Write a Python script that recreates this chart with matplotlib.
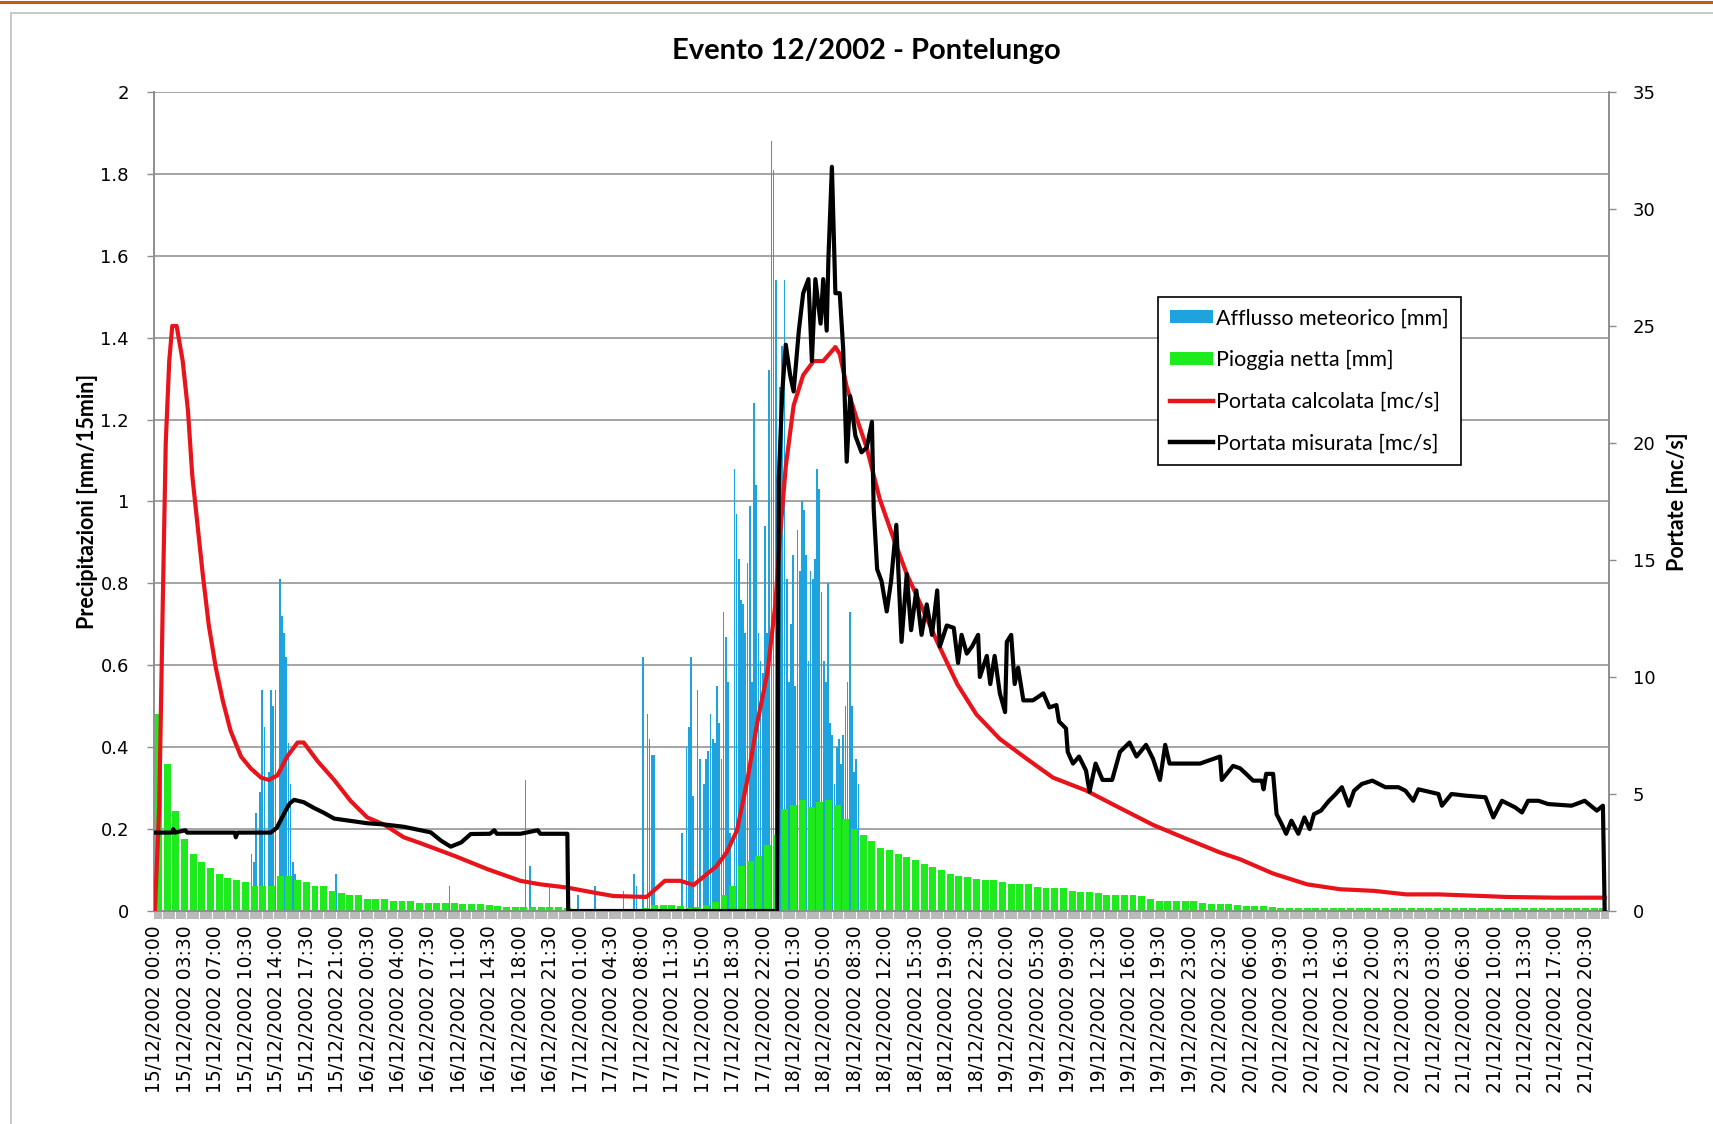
"""
Evento 12/2002 - Pontelungo: ietogramma + idrogrammi (calcolato / misurato).
Asse x in ore dall'inizio evento (15/12/2002 00:00), passo dati 15 min.
"""
import matplotlib
matplotlib.use("Agg")
import matplotlib.pyplot as plt
from matplotlib.lines import Line2D
from matplotlib.patches import Patch, Rectangle

# --- etichette asse x (una ogni 3h30) ---
etichette_x = [
    "15/12/2002 00:00", "15/12/2002 03:30", "15/12/2002 07:00", "15/12/2002 10:30",
    "15/12/2002 14:00", "15/12/2002 17:30", "15/12/2002 21:00", "16/12/2002 00:30",
    "16/12/2002 04:00", "16/12/2002 07:30", "16/12/2002 11:00", "16/12/2002 14:30",
    "16/12/2002 18:00", "16/12/2002 21:30", "17/12/2002 01:00", "17/12/2002 04:30",
    "17/12/2002 08:00", "17/12/2002 11:30", "17/12/2002 15:00", "17/12/2002 18:30",
    "17/12/2002 22:00", "18/12/2002 01:30", "18/12/2002 05:00", "18/12/2002 08:30",
    "18/12/2002 12:00", "18/12/2002 15:30", "18/12/2002 19:00", "18/12/2002 22:30",
    "19/12/2002 02:00", "19/12/2002 05:30", "19/12/2002 09:00", "19/12/2002 12:30",
    "19/12/2002 16:00", "19/12/2002 19:30", "19/12/2002 23:00", "20/12/2002 02:30",
    "20/12/2002 06:00", "20/12/2002 09:30", "20/12/2002 13:00", "20/12/2002 16:30",
    "20/12/2002 20:00", "20/12/2002 23:30", "21/12/2002 03:00", "21/12/2002 06:30",
    "21/12/2002 10:00", "21/12/2002 13:30", "21/12/2002 17:00", "21/12/2002 20:30",
]
passo_etichette = 3.5  # ore

# --- afflusso meteorico [mm/15min] (solo intervalli non nulli) ---
afflusso_t = [
    11.0, 11.25, 11.5, 12.0, 12.25, 12.5, 13.0, 13.25, 13.5, 13.75, 14.25, 14.5,
    14.75, 15.0, 15.25, 15.5, 15.75, 16.0,
    20.75, 33.75, 42.5, 43.0, 45.25, 47.5, 48.5, 50.5, 53.75, 55.0, 55.25,
    56.0, 56.5, 56.75, 57.0, 57.25,
    60.5, 61.0, 61.25, 61.5, 61.75, 62.25, 62.5, 63.0, 63.25, 63.5, 63.75, 64.0,
    64.25, 64.5, 64.75, 65.0, 65.25, 65.5, 65.75, 66.0, 66.5, 66.75, 67.0, 67.25,
    67.5, 67.75, 68.0, 68.25, 68.5, 68.75, 69.0, 69.25, 69.5, 69.75, 70.0, 70.25,
    70.5, 70.75, 71.0, 71.25, 71.5, 71.75, 72.0, 72.25, 72.5, 72.75, 73.0, 73.25,
    73.5, 73.75, 74.0, 74.25, 74.5, 74.75, 75.0, 75.25, 75.5, 75.75, 76.0, 76.25,
    76.5, 76.75, 77.0, 77.25, 77.5, 77.75, 78.0, 78.25, 78.5, 78.75, 79.0, 79.25,
    79.5, 79.75, 80.0, 80.25, 80.5, 80.75,
]
afflusso_mm = [
    0.14, 0.12, 0.24, 0.29, 0.54, 0.45, 0.34, 0.54, 0.50, 0.54, 0.81, 0.72,
    0.68, 0.62, 0.41, 0.31, 0.12, 0.09,
    0.09, 0.06, 0.32, 0.11, 0.06, 0.09, 0.04, 0.06, 0.05, 0.09, 0.06,
    0.62, 0.48, 0.42, 0.38, 0.38,
    0.19, 0.40, 0.45, 0.62, 0.28, 0.54, 0.37, 0.31, 0.37, 0.39, 0.48, 0.42,
    0.41, 0.55, 0.46, 0.37, 0.73, 0.67, 0.56, 0.19, 1.08, 0.97, 0.86, 0.76,
    0.75, 0.68, 0.85, 0.99, 0.56, 1.24, 1.04, 0.68, 0.61, 0.58, 0.94, 0.68,
    1.32, 1.88, 1.81, 1.54, 0.77, 1.28, 1.38, 1.54, 0.81, 0.56, 0.70, 0.87,
    0.55, 0.93, 0.83, 1.00, 0.98, 0.87, 0.61, 0.83, 0.81, 0.86, 1.08, 1.03,
    0.78, 0.61, 0.56, 0.80, 0.46, 0.43, 0.31, 0.40, 0.42, 0.36, 0.43, 0.50,
    0.56, 0.73, 0.50, 0.34, 0.37, 0.31,
]

# --- pioggia netta [mm/15min], un valore per ora (h = 0, 1, 2, ...) ---
pioggia_netta = [
    0.48, 0.36, 0.245, 0.175, 0.14, 0.12, 0.105, 0.09, 0.08, 0.075,   # 0-9
    0.07, 0.06, 0.06, 0.06, 0.085, 0.085, 0.075, 0.07, 0.06, 0.06,   # 10-19
    0.05, 0.045, 0.04, 0.04, 0.03, 0.03, 0.03, 0.025, 0.025, 0.025,  # 20-29
    0.02, 0.02, 0.02, 0.02, 0.02, 0.018, 0.018, 0.018, 0.015, 0.012,  # 30-39
    0.01, 0.01, 0.01, 0.01, 0.01, 0.01, 0.01, 0.008, 0.006, 0.005,   # 40-49
    0.005, 0.005, 0.005, 0.005, 0.005, 0.006, 0.008, 0.015, 0.015, 0.015,  # 50-59
    0.012, 0.008, 0.01, 0.015, 0.022, 0.04, 0.06, 0.11, 0.122, 0.135,  # 60-69
    0.16, 0.185, 0.25, 0.26, 0.27, 0.255, 0.265, 0.27, 0.26, 0.225,  # 70-79
    0.2, 0.185, 0.17, 0.155, 0.148, 0.14, 0.132, 0.125, 0.115, 0.108,  # 80-89
    0.1, 0.09, 0.085, 0.082, 0.078, 0.076, 0.076, 0.07, 0.067, 0.067,  # 90-99
    0.067, 0.058, 0.055, 0.055, 0.055, 0.048, 0.046, 0.046, 0.045, 0.04,  # 100-109
    0.038, 0.038, 0.038, 0.037, 0.03, 0.025, 0.025, 0.025, 0.025, 0.024,  # 110-119
    0.02, 0.018, 0.017, 0.016, 0.014, 0.012, 0.012, 0.012, 0.01, 0.008,  # 120-129
    0.008, 0.008, 0.008, 0.008, 0.008, 0.008, 0.008, 0.008, 0.008, 0.008,  # 130-139
    0.008, 0.008, 0.008, 0.008, 0.008, 0.008, 0.008, 0.008, 0.008, 0.008,  # 140-149
    0.008, 0.008, 0.008, 0.008, 0.008, 0.008, 0.008, 0.008, 0.008, 0.008,  # 150-159
    0.008, 0.008, 0.008, 0.008, 0.008, 0.008, 0.008,                       # 160-166
]

# --- portata calcolata [mc/s] ---
calcolata_t = [
    0.0, 0.5, 0.9, 1.25, 1.65, 2.0, 2.5, 3.2, 3.8, 4.3, 4.9, 5.5, 6.2, 7.0, 7.8,
    8.7, 9.9, 11.0, 12.2, 13.1, 14.1, 15.2, 16.4, 17.1, 18.7, 20.6, 22.5, 24.4,
    26.3, 28.6, 30.5, 34.4, 38.2, 42.0, 44.3, 47.4, 50.4, 52.7, 56.5, 57.3,
    58.6, 60.4, 61.9, 63.4, 64.5, 65.7, 66.9, 68.1, 69.2, 70.4, 71.3, 71.9,
    72.5, 73.4, 74.5, 75.7, 76.8, 78.2, 78.7, 79.5, 80.6, 81.8, 83.3, 84.9,
    86.4, 88.0, 89.9, 92.2, 94.4, 97.1, 100.2, 103.2, 107.0, 110.9, 114.7,
    118.5, 122.4, 124.7, 128.5, 132.4, 136.2, 140.1, 143.8, 147.5, 152.6,
    155.3, 161.0, 166.6,
]
calcolata_q = [
    0.0, 4.4, 13.0, 20.0, 23.5, 25.0, 25.0, 23.5, 21.4, 18.6, 16.5, 14.4, 12.2,
    10.4, 9.0, 7.7, 6.6, 6.1, 5.7, 5.6, 5.8, 6.6, 7.2, 7.2, 6.4, 5.6, 4.7, 4.0,
    3.7, 3.15, 2.9, 2.36, 1.79, 1.29, 1.14, 1.0, 0.79, 0.64, 0.6, 0.86,
    1.29, 1.29, 1.11, 1.57, 1.9, 2.5, 3.45, 5.63, 8.0, 10.2, 13.1, 16.3,
    19.0, 21.6, 22.9, 23.5, 23.5, 24.1, 23.8, 22.4, 21.1, 19.8, 17.6, 15.9,
    14.4, 13.1, 11.5, 9.7, 8.4, 7.35, 6.5, 5.7, 5.15, 4.4, 3.68,
    3.09, 2.5, 2.21, 1.6, 1.14, 0.93, 0.86, 0.71, 0.71, 0.64,
    0.6, 0.57, 0.57,
]

# --- portata misurata [mc/s] ---
misurata_t = [
    0.0, 2.0, 2.1, 2.3, 3.5, 3.7, 9.2, 9.3, 9.5, 13.3, 14.0, 14.9, 15.5, 16.0,
    17.1, 18.3, 19.4, 20.6, 22.5, 24.4, 26.3, 28.6, 30.5, 31.7, 32.9, 34.0,
    35.2, 36.3, 38.5, 39.0, 39.3, 42.0, 44.0, 44.3, 47.4, 47.5, 71.5,
    71.7, 72.1, 72.5, 73.0, 73.4, 74.0, 74.5, 75.1, 75.5, 75.9, 76.5, 76.8,
    77.2, 77.4, 77.8, 78.2, 78.7, 79.1, 79.5, 79.9, 80.5, 81.2, 81.8, 82.4,
    82.6, 83.0, 83.5, 84.1, 84.6, 85.2, 85.8, 86.4, 86.9, 87.5, 88.1, 88.7,
    89.3, 89.9, 90.2, 91.0, 91.8, 92.3, 92.7, 93.3, 93.9, 94.6, 94.8, 95.6,
    96.0, 96.5, 97.1, 97.7, 97.9, 98.4, 98.8, 99.2, 99.8, 100.9, 102.1, 102.8,
    103.6, 103.9, 104.7, 104.9, 105.5, 106.2, 107.0, 107.4, 108.1, 108.9,
    110.0, 110.9, 112.0, 112.8, 113.9, 114.7, 115.5, 116.1, 116.6, 120.1,
    122.4, 122.6, 123.9, 124.7, 125.4, 126.2, 127.2, 127.4, 127.7, 128.5,
    128.9, 129.5, 130.0, 130.6, 131.4, 132.1, 132.7, 133.2, 134.0, 134.9,
    135.7, 136.4, 137.2, 137.8, 138.7, 139.9, 141.4, 142.9, 143.7, 144.6,
    145.2, 147.5, 147.9, 149.0, 150.6, 152.9, 153.8, 154.8, 156.3, 157.1,
    157.8, 159.0, 160.1, 162.8, 164.3, 165.7, 166.4, 166.6,
]
misurata_q = [
    3.35, 3.35, 3.5, 3.35, 3.45, 3.35, 3.35, 3.15, 3.35, 3.35, 3.55, 4.2, 4.6,
    4.75, 4.65, 4.4, 4.2, 3.95, 3.85, 3.75, 3.7, 3.6, 3.45, 3.36, 3.0, 2.75,
    2.93, 3.29, 3.3, 3.45, 3.3, 3.3, 3.45, 3.3, 3.3, 0.0, 0.0,
    18.5, 22.2, 24.2, 22.9, 22.2, 24.8, 26.4, 27.0, 23.5, 27.0, 25.1, 27.0,
    24.8, 27.9, 31.8, 26.4, 26.4, 24.0, 19.2, 22.0, 20.3, 19.6, 19.8, 20.9,
    17.2, 14.6, 14.1, 12.8, 14.1, 16.5, 11.5, 14.4, 12.0, 13.7, 11.8, 13.1,
    11.8, 13.7, 11.3, 12.2, 12.1, 10.6, 11.8, 11.0, 11.3, 11.8, 10.0, 10.9,
    9.7, 10.9, 9.3, 8.5, 11.5, 11.8, 9.7, 10.4, 9.0, 9.0, 9.3, 8.7,
    8.8, 8.1, 7.8, 6.8, 6.3, 6.6, 6.0, 5.1, 6.3, 5.6,
    5.6, 6.8, 7.2, 6.6, 7.1, 6.5, 5.6, 7.1, 6.3, 6.3,
    6.6, 5.6, 6.2, 6.1, 5.86, 5.57, 5.57, 5.2, 5.86, 5.86,
    4.14, 3.7, 3.3, 3.86, 3.3, 4.0, 3.5, 4.14, 4.29, 4.7,
    5.0, 5.29, 4.5, 5.14, 5.43, 5.57, 5.29, 5.29, 5.14, 4.71,
    5.2, 5.0, 4.5, 5.0, 4.93, 4.86, 4.0, 4.71, 4.43, 4.21,
    4.71, 4.71, 4.57, 4.5, 4.71, 4.29, 4.5, 0.0,
]

BLU = "#1FA3DF"
VERDE = "#1EEB1E"
ROSSO = "#E8131B"
GRIGIO = "#8C8C8C"

fig = plt.figure(figsize=(17.13, 11.24), dpi=100)
ax = fig.add_axes([0.0899, 0.1895, 0.8494, 0.7287])
ax2 = ax.twinx()

# cornice stile Excel
fig.add_artist(Line2D([0, 1], [0.9985, 0.9985], color="#C55A11", lw=2.2,
                      transform=fig.transFigure))
fig.add_artist(Rectangle((11 / 1713, -0.01), 1.2, 1 - 13 / 1124 + 0.01,
                         transform=fig.transFigure, fill=False,
                         edgecolor="#BFBFBF", lw=1.2))

# barre: afflusso sotto, pioggia netta sopra
ax.bar(afflusso_t, afflusso_mm, width=0.2, align="edge", color=BLU,
       linewidth=0, zorder=2)
ore = list(range(len(pioggia_netta)))
ax.bar(ore, pioggia_netta, width=0.8, align="edge", color=VERDE,
       linewidth=0, zorder=3)

ax2.plot(calcolata_t, calcolata_q, color=ROSSO, lw=3.0, zorder=4,
         solid_joinstyle="round")
ax2.plot(misurata_t, misurata_q, color="black", lw=3.0, zorder=5,
         solid_joinstyle="round")

ax.set_xlim(-0.1, 167.1)
ax.set_ylim(0, 2)
ax2.set_ylim(0, 35)

ax.set_yticks([i * 0.2 for i in range(11)])
ax.set_yticklabels(["0", "0.2", "0.4", "0.6", "0.8", "1", "1.2", "1.4",
                    "1.6", "1.8", "2"])
ax2.set_yticks(range(0, 36, 5))

ax.set_xticks([i * passo_etichette for i in range(len(etichette_x))])
ax.set_xticklabels(etichette_x, rotation=90, fontsize=13.5,
                   family="DejaVu Sans")
ax.set_xticks([i * 0.25 for i in range(669)], minor=True)
ax.tick_params(axis="x", which="both", length=6, width=1.1, color="#A6A6A6",
               pad=4)
ax.tick_params(axis="y", length=5, width=1, color=GRIGIO, labelsize=13, pad=13)
ax2.tick_params(axis="y", length=5, width=1, color=GRIGIO, labelsize=13, pad=12)

ax.grid(axis="y", color=GRIGIO, lw=1.1, zorder=0)
ax.set_axisbelow(True)
for a in (ax, ax2):
    for s in a.spines.values():
        s.set_color(GRIGIO)
        s.set_linewidth(1.1)
    a.spines["top"].set_visible(False)

ax.set_ylabel("Precipitazioni [mm/15min]", fontsize=15.5, fontweight="bold",
              family="Lato", labelpad=2)
ax2.set_ylabel("Portate [mc/s]", fontsize=15.5, fontweight="bold",
               family="Lato", labelpad=8, rotation=90)
fig.suptitle("Evento 12/2002 - Pontelungo", x=0.506, y=0.966, fontsize=21,
             fontweight="bold", family="Lato")

handles = [
    Patch(facecolor=BLU, edgecolor="none"),
    Patch(facecolor=VERDE, edgecolor="none"),
    Line2D([], [], color=ROSSO, lw=3.2),
    Line2D([], [], color="black", lw=3.2),
]
labels = ["Afflusso meteorico [mm]", "Pioggia netta [mm]",
          "Portata calcolata [mc/s]", "Portata misurata [mc/s]"]
leg = ax2.legend(handles, labels, loc="upper left",
                 bbox_to_anchor=(0.690, 0.750), borderaxespad=0,
                 prop={"family": "Lato", "size": 15.5}, frameon=True,
                 fancybox=False, edgecolor="black", framealpha=1,
                 handlelength=2.0, handleheight=0.55, handletextpad=0.15,
                 labelspacing=1.0, borderpad=0.55)
leg.get_frame().set_linewidth(1.2)
leg.set_zorder(10)

fig.savefig("out.png", dpi=100, facecolor="white")
